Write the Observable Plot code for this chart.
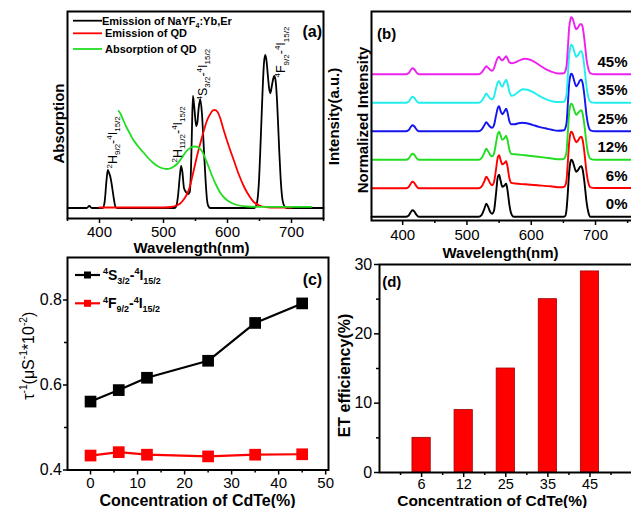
<!DOCTYPE html>
<html>
<head>
<meta charset="utf-8">
<script src="https://cdn.jsdelivr.net/npm/d3@7"></script>
<script src="https://cdn.jsdelivr.net/npm/@observablehq/plot@0.6"></script>
<style>
  html, body { margin: 0; padding: 0; background: #fff; overflow: hidden; }
  #fig { position: relative; width: 631px; height: 508px; overflow: hidden; background: #fff; }
  #fig svg { position: absolute; }
</style>
</head>
<body>
<div id="fig"></div>
<script>
// ================= DATA =================
// (a) spectra  [wavelength (nm), intensity (a.u.)]
const aEmissionNaYF = [[350,0],[380,0],[384,2],[388,0],[405,0],[408,6],[411,28],[413,38],[415,35],[417,31],[419,24],[422,11],[425,1],[428,0],[517,0],[520,2],[523,14],[525.5,32],[527.5,42],[529.5,36],[532,20],[535,16],[538,14],[541,16],[543,40],[544.5,80],[546,112],[548.5,98],[551,82],[553,86],[555,100],[557.5,108.5],[560,95],[563,60],[566,25],[568,8],[570,2],[573,0],[642,0],[646,5],[649,25],[652,70],[655,120],[657,145],[659,153],[661,147],[663,133],[665,120],[667,115],[669,121],[671,128],[673,132],[675,128],[677,112],[679,85],[681,55],[683,30],[685,13],[688,3],[692,0],[750,0]];
const aEmissionQD = [[400,0.5],[450,0.5],[500,0.5],[512,1],[520,2.5],[526,4.5],[531,8],[536,13],[541,21],[547,37],[552,51],[557,63.5],[562,75],[568,87.5],[573,94],[577,97.5],[580,98],[584,96.5],[588,91],[594,78],[602,62],[610,47.5],[618,33],[626,21],[634,12],[641,6],[650,2.5],[660,1],[675,0.5],[700,0.5]];
const aAbsorptionQD = [[430,97],[433,94],[437,88],[442,81],[447,75],[452,69],[460,62],[468,56],[476,50],[484,45],[492,41.5],[500,39.5],[505,39],[510,39.5],[515,41],[521,44],[529,50.5],[536,57],[543,60.5],[549,61.5],[555,60.5],[560,57],[565,50],[570,42],[576,32],[583,22],[589,15],[597,9],[605,5.5],[615,3],[631,1.5],[650,1.2],[690,1.2],[731,1.2]];
const aLegendLabels = ["Emission of NaYF_{4}:Yb,Er", "Emission of QD", "Absorption of QD"];
const aTransitionLabels = ["^{2}H_{9/2}-^{4}I_{15/2}", "^{2}H_{11/2}-^{4}I_{15/2}", "^{4}S_{3/2}-^{4}I_{15/2}", "^{4}F_{9/2}-^{4}I_{15/2}"];
const aMajorTicks = [400, 500, 600, 700];
const aMinorTicks = [350, 450, 550, 650, 750];

// (b) normalized upconversion spectra for each CdTe concentration  [nm, a.u.]
const bConcLabels = ["0%", "6%", "12%", "25%", "35%", "45%"];
const bStackOffset = [0, 28.5, 57, 85.5, 114, 142.5];
const b0 = [[351.5,0],[405,0],[409,1],[412,4],[415,6.5],[418,5.5],[421,2.5],[425,0],[518,0],[523,2],[527,8],[530,13],[533,10],[536,5],[539,3],[542,6],[545,22],[548,40],[550,42],[552,37],[555,30],[558,31],[561,33],[563,27],[566,12],[569,3],[573,0],[650,0],[653,1],[655,8],[657,25],[659,45],[661,55],[662,57],[664,56],[667,50],[670,45],[673,47],[676,50],[678,50.5],[680,47],[683,33],[686,15],[689,4],[692,0],[757.5,0]];
const b6 = [[351.5,0],[405,0],[409,1],[412,4],[415,6.5],[418,5.5],[421,2.5],[425,0],[518,0],[523,2],[527,7],[530,11.5],[533,9],[536,5],[539,3],[542,6],[545,18],[548,31],[550,33],[552,29],[555,24],[558,25],[561,27],[563,22],[566,10],[569,5.5],[575,4.8],[590,4],[610,3],[630,2],[645,1],[651,1.5],[653,3],[655,9],[657,27],[659,46],[661,55],[662,56.5],[664,55.5],[667,50],[670,46],[673,48],[676,51],[678,51.5],[680,48],[683,34],[686,16],[689,5],[692,1],[700,0.3],[757.5,0.3]];
const b12 = [[351.5,0],[405,0],[409,1],[412,3.8],[415,6],[418,5],[421,2.3],[425,0],[518,0],[523,2],[527,7],[530,11],[533,8.5],[536,5],[539,3.5],[542,6],[545,16],[548,26],[550,28],[552,25],[555,20],[558,21.5],[561,24],[563,20],[566,10],[569,6],[575,5.5],[590,4.5],[610,3],[630,1.5],[645,0.5],[651,1],[653,3],[655,9],[657,28],[659,47],[661,55],[662,56],[664,55],[667,49.5],[670,45],[673,47],[676,49],[678,49.5],[680,46],[683,33],[686,16],[689,5],[692,1],[700,0],[757.5,0]];
const b25 = [[351.5,0],[405,0],[409,1],[412,3.8],[415,6],[418,5],[421,2.3],[425,0],[518,0],[523,2],[527,6],[530,9],[533,7],[536,4.5],[539,3.5],[542,6],[545,15],[548,23.5],[550,25],[552,21],[555,17],[558,19.5],[561,22.5],[563,19],[566,10],[569,7],[574,7],[580,8],[586,8.5],[593,8],[602,6.5],[612,4.5],[622,3],[632,1.5],[642,0.5],[651,1],[653,3],[655,9],[657,28],[659,48],[661,56],[662,57.5],[664,56.5],[667,50],[670,45],[673,47.5],[676,51],[678,51.5],[680,48],[683,34],[686,16],[689,5],[692,1],[700,0],[757.5,0]];
const b35 = [[351.5,0],[405,0],[409,1],[412,3.8],[415,6],[418,5],[421,2.3],[425,0],[518,0],[523,2],[527,6],[530,9.3],[533,7],[536,4.5],[539,3.5],[542,6],[545,14],[548,20.5],[550,21.5],[552,18.5],[555,16],[558,20],[561,23],[563,19.5],[566,11],[569,7],[574,8],[580,11],[587,13.5],[594,13],[602,11],[611,7.5],[620,4.5],[630,2],[640,0.8],[651,1],[653,3],[655,9],[657,28],[659,48],[661,56],[662,58],[664,57],[667,51],[670,46],[673,48],[676,51],[678,51.5],[680,48],[683,34],[686,16],[689,5],[692,1],[700,0],[757.5,0]];
const b45 = [[351.5,0],[405,0],[409,1],[412,3.8],[415,6],[418,5],[421,2.3],[425,0],[518,0],[523,2],[527,5.5],[530,8],[533,6.5],[536,4.5],[539,3.5],[542,6],[545,12],[548,16.5],[550,17.5],[552,15.5],[555,14],[558,16],[561,18],[563,16],[566,12],[570,11],[575,12],[582,14],[590,15.5],[597,14.8],[605,12.5],[614,8.5],[623,5],[632,2.5],[642,0.8],[651,1],[653,3],[655,9],[657,27],[659,47],[661,55],[662,57],[664,56],[667,50],[670,45],[673,47],[676,50],[678,50],[680,47],[683,33],[686,15],[689,5],[692,1],[700,0],[757.5,0]];
const bSpectra = [b0, b6, b12, b25, b35, b45];
const bMajorTicks = [400, 500, 600, 700];
const bMinorTicks = [450, 550, 650, 750];

// (c) inverse lifetimes vs CdTe concentration
const cConc = [0, 6, 12, 25, 35, 45];
const cS32 = [0.561, 0.588, 0.617, 0.657, 0.746, 0.792];
const cF92 = [0.434, 0.442, 0.436, 0.432, 0.436, 0.437];
const cLegendLabels = ["^{4}S_{3/2}-^{4}I_{15/2}", "^{4}F_{9/2}-^{4}I_{15/2}"];
const cXTicks = [0, 10, 20, 30, 40, 50];
const cXMinor = [5, 15, 25, 35, 45];
const cYTicks = [0.4, 0.6, 0.8];
const cYMinor = [0.5, 0.7];

// (d) energy transfer efficiency
const dConc = ["6", "12", "25", "35", "45"];
const dEff = [5, 9, 15, 25, 29];
const dYTicks = [0, 10, 20, 30];
const dYMinor = [5, 15, 25];

// ================= STYLE =================
const FONT = "'Liberation Sans', Arial, Helvetica, sans-serif";
const STYLE = `background: transparent; overflow: visible; font-family: ${FONT}; color: #000;`;
const RED = "#ff0000", GREEN = "#22dd22";
const bColors = ["#000000", "#ff0000", "#22dd22", "#1414ee", "#22eeee", "#ee22ee"];
const NS = "http://www.w3.org/2000/svg";
const fig = document.getElementById("fig");
const pts = arr => arr.map(([x, y]) => ({x, y}));

function place(svg, left, top) {
  svg.style.left = left + "px";
  svg.style.top = top + "px";
  fig.appendChild(svg);
  return svg;
}
function add(parent, tag, attrs, text) {
  const el = document.createElementNS(NS, tag);
  for (const k in attrs) el.setAttribute(k, attrs[k]);
  if (text != null) el.textContent = text;
  parent.appendChild(el);
  return el;
}
// turn ^{..} / _{..} markup into super/subscript tspans
function richify(root) {
  root.querySelectorAll("text").forEach(el => {
    const s = el.textContent;
    if (!/[\^_]\{/.test(s)) return;
    const fs = parseFloat(getComputedStyle(el).fontSize) || 12;
    const parts = s.split(/(\^\{[^}]*\}|_\{[^}]*\})/).filter(p => p !== "");
    el.textContent = "";
    let cur = 0;
    for (const p of parts) {
      let txt = p, shift = 0, small = false;
      if (p.startsWith("^{")) { txt = p.slice(2, -1); shift = -0.4 * fs; small = true; }
      else if (p.startsWith("_{")) { txt = p.slice(2, -1); shift = 0.26 * fs; small = true; }
      const t = document.createElementNS(NS, "tspan");
      if (small) t.setAttribute("font-size", (0.64 * fs).toFixed(2) + "px");
      const dy = shift - cur;
      if (dy) t.setAttribute("dy", dy.toFixed(2));
      cur = shift;
      t.textContent = txt;
      el.appendChild(t);
    }
  });
}

// ================= PANEL A =================
const A = Plot.plot({
  width: 327, height: 257,
  marginLeft: 67, marginRight: 4, marginTop: 11, marginBottom: 39,
  style: STYLE,
  x: {domain: [350, 750], axis: null},
  y: {domain: [-10.5, 196.5], axis: null},
  marks: [
    Plot.line(pts(aEmissionNaYF), {x: "x", y: "y", stroke: "#000", strokeWidth: 1.8, curve: "monotone-x"}),
    Plot.line(pts(aEmissionQD), {x: "x", y: "y", stroke: RED, strokeWidth: 1.8, curve: "monotone-x"}),
    Plot.line(pts(aAbsorptionQD), {x: "x", y: "y", stroke: GREEN, strokeWidth: 1.8, curve: "monotone-x"}),
    Plot.text(aTransitionLabels, {
      x: (d, i) => [427.5, 529, 568, 690.5][i],
      y: (d, i) => [39.5, 45.5, 107.5, 130.5][i],
      text: d => d, rotate: -90, textAnchor: "start", lineAnchor: "bottom", fontSize: 12.5, fill: "#000"
    }),
    Plot.frame({stroke: "#000", strokeWidth: 2}),
    Plot.axisX({ticks: aMajorTicks, tickSize: 5, tickPadding: 3, fontSize: 15, label: null, strokeWidth: 1.5}),
    Plot.axisX({ticks: aMinorTicks, tickSize: 3, tickFormat: () => "", label: null, strokeWidth: 1.5}),
    Plot.text(["Absorption"], {text: d => d, frameAnchor: "left", dx: -4, dy: 8.5, rotate: -90, textAnchor: "middle", lineAnchor: "bottom", fontSize: 15, fontWeight: "bold"}),
    Plot.text(["Wavelength(nm)"], {text: d => d, frameAnchor: "bottom", dx: -4, dy: 34.5, textAnchor: "middle", lineAnchor: "bottom", fontSize: 15, fontWeight: "bold"}),
    Plot.text(["(a)"], {text: d => d, frameAnchor: "top-right", dx: -1.5, dy: 14, textAnchor: "end", fontSize: 16, fontWeight: "bold"})
  ]
});
place(A, 0, 0);
{
  const colors = ["#000", RED, GREEN];
  const rowY = [20.7, 33.3, 49];
  const textX = [102, 105, 105];
  aLegendLabels.forEach((lab, i) => {
    add(A, "line", {x1: 73, x2: 102, y1: rowY[i], y2: rowY[i], stroke: colors[i], "stroke-width": 1.8});
    add(A, "text", {x: textX[i], y: rowY[i] + 4, "font-size": 11, "font-weight": "bold", "font-family": FONT, "text-anchor": "start", fill: "#000"}, lab);
  });
}

// ================= PANEL B =================
const bRows = bSpectra.flatMap((s, i) => s.map(([x, y]) => ({x, y: y + bStackOffset[i], k: bConcLabels[i]})));
const B = Plot.plot({
  width: 308, height: 260,
  marginLeft: 46, marginRight: 1, marginTop: 11, marginBottom: 40,
  style: STYLE,
  x: {domain: [351.5, 757.5], axis: null},
  y: {domain: [-3.7, 205.3], axis: null},
  color: {domain: bConcLabels, range: bColors},
  marks: [
    Plot.line(bRows, {x: "x", y: "y", z: "k", stroke: "k", strokeWidth: 1.9, curve: "monotone-x"}),
    Plot.text(bConcLabels, {text: d => d, frameAnchor: "right", dx: -5, y: (d, i) => bStackOffset[i] + 12.5, textAnchor: "end", fontSize: 15, fontWeight: "bold"}),
    Plot.frame({stroke: "#000", strokeWidth: 2}),
    Plot.axisX({ticks: bMajorTicks, tickSize: 5, tickPadding: 4, fontSize: 15, label: null, strokeWidth: 1.5}),
    Plot.axisX({ticks: bMinorTicks, tickSize: 3, tickFormat: () => "", label: null, strokeWidth: 1.5}),
    Plot.text(["Intensity(a.u.)"], {text: d => d, frameAnchor: "left", dx: -32.5, dy: 0.5, rotate: -90, textAnchor: "middle", lineAnchor: "bottom", fontSize: 15, fontWeight: "bold"}),
    Plot.text(["Normalized Intensity"], {text: d => d, frameAnchor: "left", dx: -4, dy: 4, rotate: -90, textAnchor: "middle", lineAnchor: "bottom", fontSize: 15, fontWeight: "bold"}),
    Plot.text(["Wavelength(nm)"], {text: d => d, frameAnchor: "bottom", dx: -1.5, dy: 37.2, textAnchor: "middle", lineAnchor: "bottom", fontSize: 15, fontWeight: "bold"}),
    Plot.text(["(b)"], {text: d => d, frameAnchor: "top-left", dx: 5.5, dy: 16.5, textAnchor: "start", fontSize: 15, fontWeight: "bold"})
  ]
});
place(B, 325, 0);

// ================= PANEL C =================
const cRowsS = cConc.map((x, i) => ({x, y: cS32[i]}));
const cRowsF = cConc.map((x, i) => ({x, y: cF92[i]}));
const C = Plot.plot({
  width: 335, height: 258,
  marginLeft: 67, marginRight: 7, marginTop: 7, marginBottom: 38.5,
  style: STYLE,
  x: {domain: [-4.9, 50.6], axis: null},
  y: {domain: [0.4, 0.9], axis: null},
  marks: [
    Plot.line(cRowsS, {x: "x", y: "y", stroke: "#000", strokeWidth: 2.2}),
    Plot.line(cRowsF, {x: "x", y: "y", stroke: RED, strokeWidth: 2.2}),
    Plot.dot(cRowsS, {x: "x", y: "y", symbol: "square", r: 6.6, fill: "#000", stroke: "none"}),
    Plot.dot(cRowsF, {x: "x", y: "y", symbol: "square", r: 6.6, fill: RED, stroke: "none"}),
    Plot.frame({stroke: "#000", strokeWidth: 2}),
    Plot.axisX({ticks: cXTicks, tickSize: 5, tickPadding: 2, fontSize: 15, label: null, strokeWidth: 1.5}),
    Plot.axisX({ticks: cXMinor, tickSize: 3, tickFormat: () => "", label: null, strokeWidth: 1.5}),
    Plot.axisY({ticks: cYTicks, tickSize: 4, tickPadding: 1.5, fontSize: 16, label: null, tickFormat: d => d.toFixed(1), strokeWidth: 1.5}),
    Plot.axisY({ticks: cYMinor, tickSize: 3, tickFormat: () => "", label: null, strokeWidth: 1.5}),
    Plot.text(["τ^{-1}(μS^{-1}*10^{-2})"], {text: d => d, frameAnchor: "left", dx: -34, dy: -8, rotate: -90, textAnchor: "middle", lineAnchor: "bottom", fontSize: 16}),
    Plot.text(["Concentration of CdTe(%)"], {text: d => d, frameAnchor: "bottom", dx: -0.5, dy: 35.5, textAnchor: "middle", lineAnchor: "bottom", fontSize: 16, fontWeight: "bold"}),
    Plot.text(["(c)"], {text: d => d, frameAnchor: "top-right", dx: -6.3, dy: 16, textAnchor: "end", fontSize: 16, fontWeight: "bold"})
  ]
});
place(C, 0, 250);
{
  const colors = ["#000", RED];
  const rowY = [25, 53.3];
  cLegendLabels.forEach((lab, i) => {
    add(C, "line", {x1: 75, x2: 100, y1: rowY[i], y2: rowY[i], stroke: colors[i], "stroke-width": 2.2});
    add(C, "rect", {x: 84, y: rowY[i] - 3.5, width: 7, height: 7, fill: colors[i]});
    add(C, "text", {x: 103, y: rowY[i] + 5, "font-size": 14, "font-weight": "bold", "font-family": FONT, "text-anchor": "start", fill: "#000"}, lab);
  });
}

// ================= PANEL D =================
const dRows = dConc.map((c, i) => ({pos: i + 1, c, v: dEff[i]}));
const D = Plot.plot({
  width: 295, height: 258,
  marginLeft: 41, marginRight: 1, marginTop: 14, marginBottom: 36,
  style: STYLE,
  x: {domain: [0, 6.01], axis: null},
  y: {domain: [0, 30], axis: null},
  marks: [
    Plot.rectY(dRows, {x1: d => d.pos - 0.217, x2: d => d.pos + 0.217, y1: 0, y2: "v", fill: "#ff0000", stroke: "#a00000", strokeWidth: 0.8}),
    Plot.frame({stroke: "#000", strokeWidth: 2}),
    Plot.axisX({ticks: dRows.map(d => d.pos), tickFormat: p => dConc[p - 1], tickSize: 5, tickPadding: 1, fontSize: 14.5, label: null, strokeWidth: 1.5}),
    Plot.axisX({ticks: [0.5, 1.5, 2.5, 3.5, 4.5, 5.5], tickSize: 3, tickFormat: () => "", label: null, strokeWidth: 1.5}),
    Plot.axisY({ticks: dYTicks, tickSize: 5, tickPadding: 2.3, fontSize: 16, label: null, strokeWidth: 1.5}),
    Plot.axisY({ticks: dYMinor, tickSize: 3, tickFormat: () => "", label: null, strokeWidth: 1.5}),
    Plot.text(["ET efficiency(%)"], {text: d => d, frameAnchor: "left", dx: -30, dy: 7, rotate: -90, textAnchor: "middle", lineAnchor: "bottom", fontSize: 16, fontWeight: "bold"}),
    Plot.text(["Concentration of CdTe(%)"], {text: d => d, frameAnchor: "bottom", dx: -13.8, dy: 33.4, textAnchor: "middle", lineAnchor: "bottom", fontSize: 15.5, fontWeight: "bold"}),
    Plot.text(["(d)"], {text: d => d, frameAnchor: "top-left", dx: 2.7, dy: 12, textAnchor: "start", fontSize: 15, fontWeight: "bold"})
  ]
});
place(D, 338, 250);

richify(fig);
</script>
</body>
</html>
